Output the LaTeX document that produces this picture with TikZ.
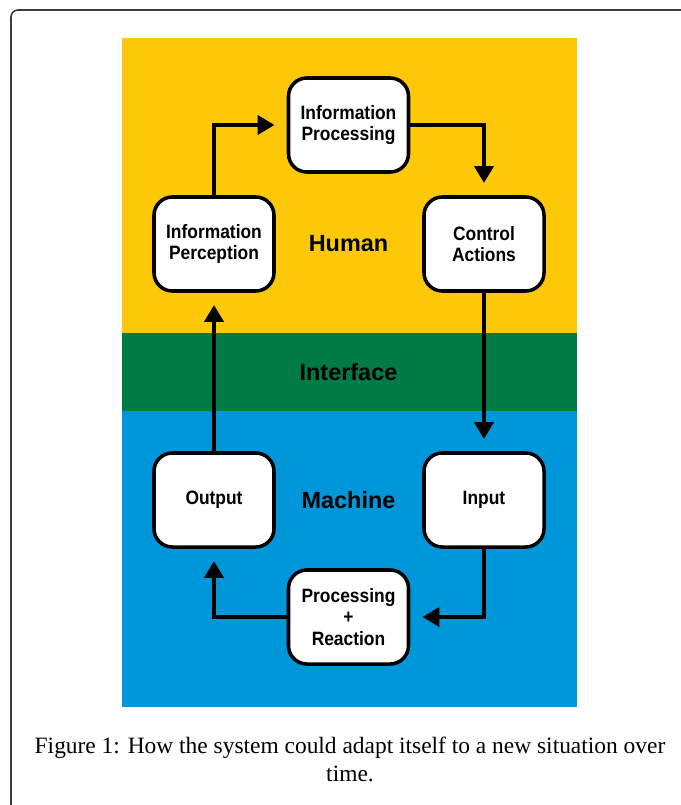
\documentclass[tikz,border=0pt]{standalone}
\usepackage{fontspec}
\usepackage{tikz}
\usetikzlibrary{arrows.meta}

\setmainfont{Liberation Serif}
\newfontfamily\labelfont[FakeStretch=0.9]{Liberation Sans}
\newfontfamily\bandfont{Liberation Sans}

\definecolor{humanyellow}{RGB}{253,200,8}
\definecolor{ifacegreen}{RGB}{0,123,70}
\definecolor{machineblue}{RGB}{0,150,218}
\definecolor{framegray}{RGB}{60,60,60}

\begin{document}
\begin{tikzpicture}[x=0.03cm,y=-0.03cm]
        \useasboundingbox (0,0) rectangle (681,805);
        \clip (0,0) rectangle (681,805);
        % outer frame and the three bands
        \draw[framegray,line width=1.4pt,rounded corners=6] (11,10) rectangle (720,840);
        \fill[humanyellow] (122,38) rectangle (577,333);
        \fill[ifacegreen] (122,333) rectangle (577,411);
        \fill[machineblue] (122,411) rectangle (577,707);
        \begin{scope}[
            >={Triangle[length=0.5cm,width=0.57cm]},
            every node/.style={font=\labelfont\bfseries\fontsize{16.5}{18.5}\selectfont,align=center},
            stage/.style={draw,fill=white,line width=3pt,rounded corners=0.55cm,
                minimum width=3.6cm,minimum height=2.82cm},
            band/.style={font=\bandfont\bfseries\fontsize{20}{22}\selectfont},
            flow/.style={->,line width=3pt,shorten >=0.37cm}
            ]
            \node[stage] (proc) at (348.5,125) {Information\\Processing};
            \node[stage] (perc) at (214,244) {Information\\Perception};
            \node[stage] (ctrl) at (484,244) {Control\\Actions};
            \node[stage] (out) at (214,500) {Output};
            \node[stage] (inp) at (484,500) {Input};
            \node[stage] (react) at (348.5,617) {Processing\\+\\Reaction};
            \node[band] (human) at (348.5,244) {Human};
            \node[band] (iface) at (348.5,372) {Interface};
            \node[band] (machine) at (348.5,500) {Machine};
            \draw[flow] (perc.north) |- (proc.west);
            \draw[flow] (proc.east) -| (ctrl.north);
            \draw[flow] (ctrl.south) -- (inp.north);
            \draw[flow] (inp.south) |- (react.east);
            \draw[flow] (react.west) -| (out.south);
            \draw[flow] (out.north) -- (perc.south);
        \end{scope}
        \node[font=\fontsize{20}{24}\selectfont,align=center] (caption) at (350,759)
            {Figure 1: How the system could adapt itself to a new situation over\\time.};
    \end{tikzpicture}
\end{document}
